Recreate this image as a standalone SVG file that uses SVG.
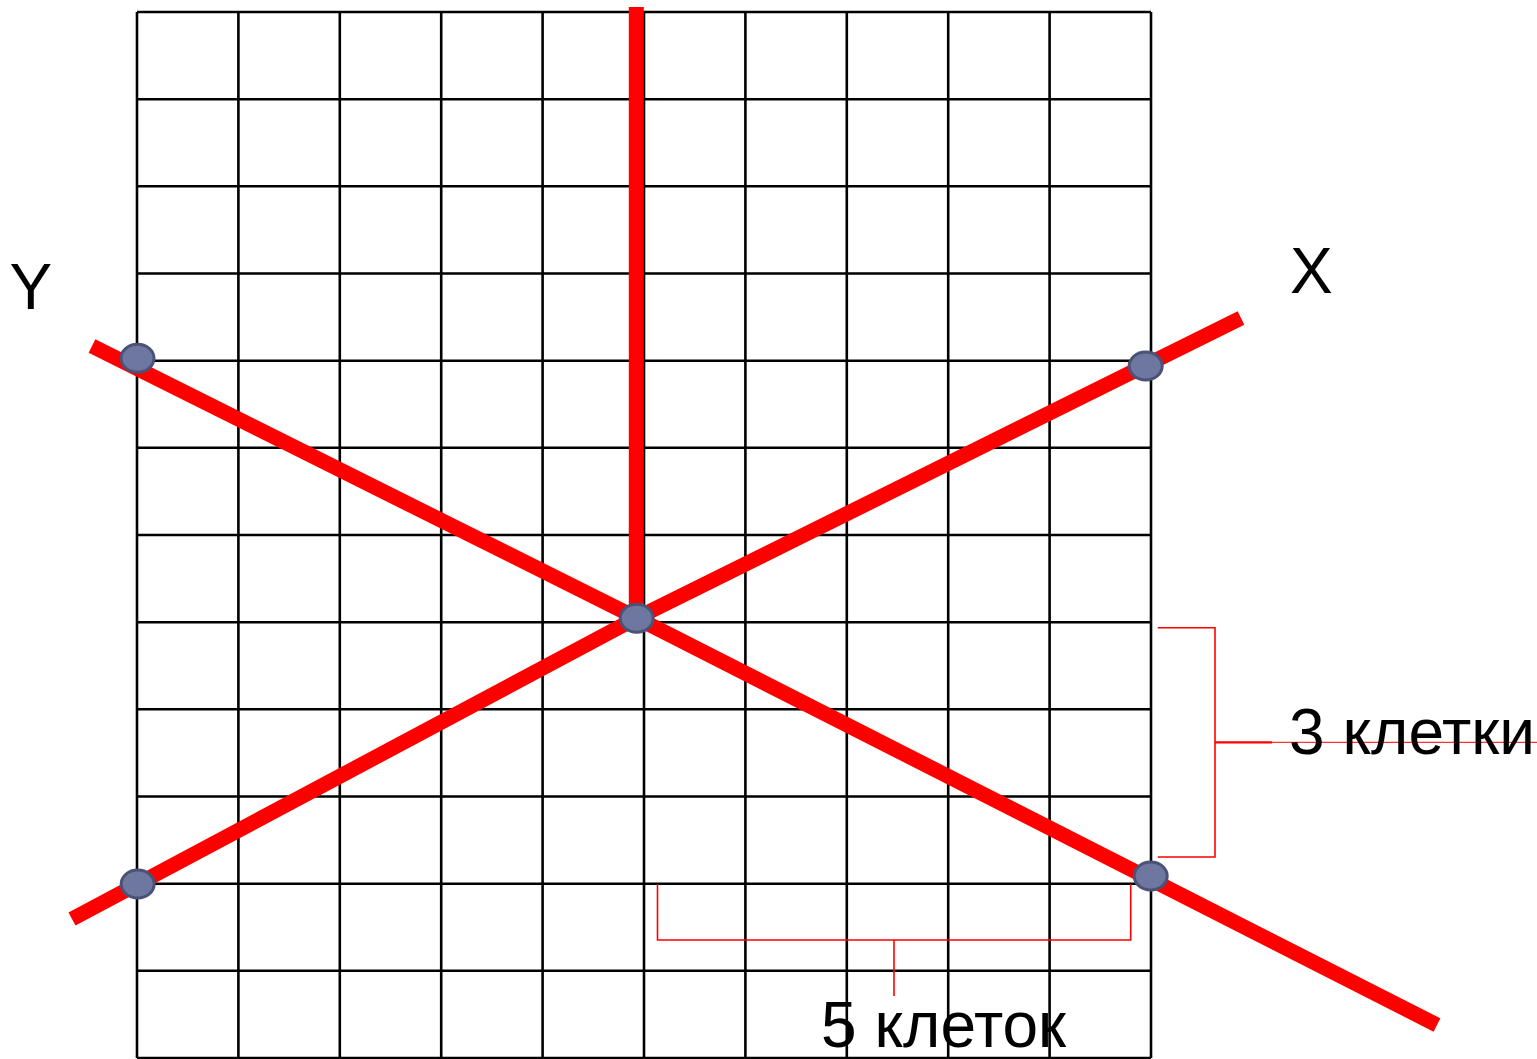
<svg xmlns="http://www.w3.org/2000/svg" width="1537" height="1059" viewBox="0 0 1537 1059">
<style>
.grid{stroke:#000;stroke-width:2.6;fill:none}
.axis{stroke:#ff0000;stroke-width:15;fill:none;stroke-linecap:butt;stroke-linejoin:miter}
.br{stroke:#ff0000;stroke-width:1.6;fill:none}
.pt{fill:#6e77a0;stroke:#4b5275;stroke-width:3}
.lbl{font-family:"Liberation Sans",Arial,sans-serif;font-size:64px;fill:#000}
</style>
<rect width="1537" height="1059" fill="#fff"/>
<g id="grid" class="grid">
<path d="M137,12V1058M238.4,12V1058M339.8,12V1058M441.2,12V1058M542.6,12V1058M644,12V1058M745.4,12V1058M846.8,12V1058M948.2,12V1058M1049.6,12V1058M1151,12V1058"/>
<path d="M137,12H1151M137,99.2H1151M137,186.3H1151M137,273.5H1151M137,360.7H1151M137,447.8H1151M137,535H1151M137,622.2H1151M137,709.3H1151M137,796.5H1151M137,883.7H1151M137,970.8H1151M137,1058H1151"/>
</g>
<g id="connectors">
<line class="axis" x1="636.3" y1="7" x2="636.3" y2="618"/>
<polyline id="axis-y" class="axis" points="92,346 636.7,618 1437,1025"/>
<polyline id="axis-x" class="axis" points="72,919 636.7,618 1241,318"/>
<path class="br" d="M1157.7,627.7H1215V857H1157.7"/>
<line x1="1215" y1="742.3" x2="1272" y2="742.3" stroke="#ff0000" stroke-width="2.2"/>
<line x1="1272" y1="742.3" x2="1537" y2="742.3" stroke="#ff0000" stroke-width="1"/>
<path class="br" d="M657.5,884V940H1130.7V884M894,940V996"/>
</g>
<g id="node-y-top"><ellipse class="pt" cx="137.5" cy="358.3" rx="16.5" ry="14"/></g>
<g id="node-x-top"><ellipse class="pt" cx="1145.7" cy="366" rx="16.5" ry="14"/></g>
<g id="node-center"><ellipse class="pt" cx="636.7" cy="618.3" rx="16.5" ry="14"/></g>
<g id="node-x-bottom"><ellipse class="pt" cx="137.7" cy="884" rx="16.5" ry="14"/></g>
<g id="node-y-bottom"><ellipse class="pt" cx="1150.7" cy="876" rx="16.5" ry="14"/></g>
<g id="labels">
<text class="lbl" x="9.5" y="309">Y</text>
<text class="lbl" x="1290" y="292.7">X</text>
<text class="lbl" x="1289" y="754">3 клетки</text>
<text class="lbl" x="821" y="1046.7">5 клеток</text>
</g>
</svg>
